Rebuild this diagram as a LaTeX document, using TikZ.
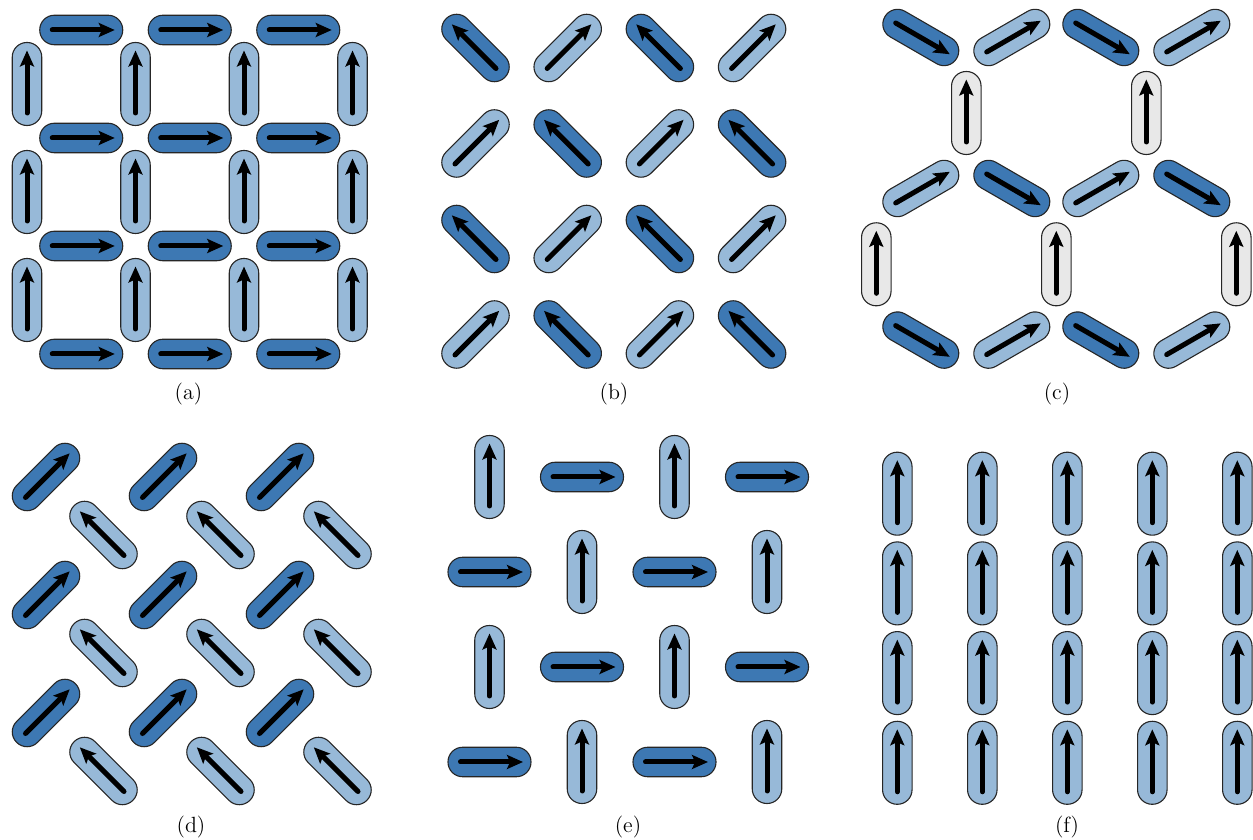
\documentclass[tikz,border=0pt]{standalone}
\usepackage{tikz}
\usetikzlibrary{arrows.meta}
\definecolor{magdark}{RGB}{61,120,179}
\definecolor{maglight}{RGB}{151,185,216}
\definecolor{maggrey}{RGB}{232,232,232}

\tikzset{
  magbody/.style={draw=black!85,line width=0.55pt,rounded corners=7.3pt},
  magspin/.style={line width=2.5pt,line cap=round,-{Stealth[length=8pt,width=7pt,inset=1.6pt]}},
  subcap/.style={font=\fontsize{11}{13}\selectfont,inner sep=0pt}
}
% one nanomagnet: centre x, centre y, angle, fill
\newcommand{\nmag}[4]{%
  \begin{scope}[shift={(#1,#2)},rotate=#3]
    \draw[magbody,fill=#4] (-41.5,-14.75) rectangle (41.5,14.75);
    \draw[magspin] (-29,0) -- (33.5,0);
  \end{scope}}

\begin{document}
\begin{tikzpicture}[x=0.5pt,y=0.5pt]
\useasboundingbox (0,0) rectangle (1253,840);

% (a) square ice
\begin{scope}[shift={(27,486)}]
  \foreach \i in {0,1,2} \foreach \j in {0,...,3} {\nmag{\i*108.5+54.25}{\j*108}{0}{magdark}}
  \foreach \i in {0,...,3} \foreach \j in {0,1,2} {\nmag{\i*108.5}{\j*108+54}{90}{maglight}}
\end{scope}

% (b) diagonal lattice
\begin{scope}[shift={(475.5,792)}]
  \foreach \i in {0,...,3} \foreach \j in {0,...,3} {
    \pgfmathtruncatemacro{\parity}{mod(\i+\j,2)}
    \ifnum\parity=0 \nmag{\i*92.2}{-\j*95.5}{135}{magdark}
    \else \nmag{\i*92.2}{-\j*95.5}{45}{maglight}\fi}
\end{scope}

% (c) kagome
\begin{scope}[shift={(876.3,575.7)}]
  \foreach \k in {0,1,2} {\nmag{\k*180}{0}{90}{maggrey}}
  \foreach \k in {0,1} {\nmag{\k*180+90}{151.3}{90}{maggrey}}
  \foreach \x/\ang/\col in {44.5/-30/magdark,135.5/30/maglight,224.5/-30/magdark,315.5/30/maglight} {
    \nmag{\x}{226.8}{\ang}{\col}
    \nmag{\x}{-75.8}{\ang}{\col}}
  \foreach \x/\ang/\col in {44.5/30/maglight,135.5/-30/magdark,224.5/30/maglight,315.5/-30/magdark} {
    \nmag{\x}{75.8}{\ang}{\col}}
\end{scope}

% (d) staggered diagonals
\begin{scope}[shift={(46,363)}]
  \foreach \i in {0,1,2} \foreach \j in {0,1,2} {
    \nmag{\i*117}{-\j*118}{45}{magdark}
    \nmag{\i*117+57.5}{-\j*118-58}{135}{maglight}}
\end{scope}

% (e) pinwheel-like
\begin{scope}[shift={(489.5,363)}]
  \foreach \i in {0,...,3} \foreach \j in {0,...,3} {
    \pgfmathtruncatemacro{\parity}{mod(\i+\j,2)}
    \ifnum\parity=0 \nmag{\i*92.5}{-\j*95}{90}{maglight}
    \else \nmag{\i*92.5}{-\j*95}{0}{magdark}\fi}
\end{scope}

% (f) saturated chains
\begin{scope}[shift={(897.3,346.3)}]
  \foreach \i in {0,...,4} \foreach \j in {0,...,3} {\nmag{\i*85}{-\j*89.7}{90}{maglight}}
\end{scope}

% captions
\node[subcap] (capa) at (188.5,446) {(a)};
\node[subcap] (capb) at (614,446) {(b)};
\node[subcap] (capc) at (1057,446) {(c)};
\node[subcap] (capd) at (191,13) {(d)};
\node[subcap] (cape) at (628,13) {(e)};
\node[subcap] (capf) at (1067,13) {(f)};
\end{tikzpicture}
\end{document}
